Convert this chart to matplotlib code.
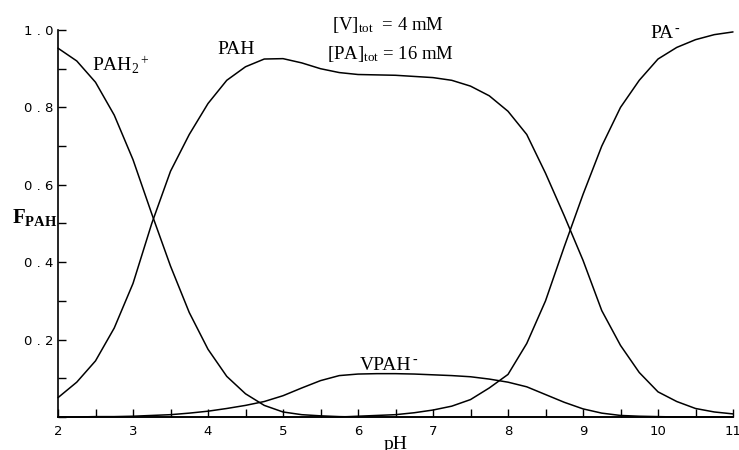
import matplotlib
matplotlib.use("Agg")
import matplotlib.pyplot as plt
from matplotlib.ticker import MultipleLocator, FixedLocator, FixedFormatter

plt.rcParams['font.family'] = ['Liberation Serif', 'DejaVu Serif']
plt.rcParams['mathtext.fontset'] = 'custom'
plt.rcParams['mathtext.rm'] = 'Liberation Serif'
plt.rcParams['mathtext.it'] = 'Liberation Serif:italic'
plt.rcParams['mathtext.bf'] = 'Liberation Serif:bold'
plt.rcParams['mathtext.default'] = 'rm'

# ---- data ----
pH = [2.0, 2.25, 2.5, 2.75, 3.0, 3.25, 3.5, 3.75, 4.0, 4.25, 4.5, 4.75,
      5.0, 5.25, 5.5, 5.75, 6.0, 6.25, 6.5, 6.75, 7.0, 7.25, 7.5, 7.75,
      8.0, 8.25, 8.5, 8.75, 9.0, 9.25, 9.5, 9.75, 10.0, 10.25, 10.5, 10.75, 11.0]

PAH2 = [0.953, 0.92, 0.865, 0.78, 0.665, 0.525, 0.39, 0.27, 0.175, 0.105, 0.06, 0.03,
        0.013, 0.006, 0.003, 0.001, 0.0, 0.0, 0.0, 0.0, 0.0, 0.0, 0.0, 0.0,
        0.0, 0.0, 0.0, 0.0, 0.0, 0.0, 0.0, 0.0, 0.0, 0.0, 0.0, 0.0, 0.0]

PAH = [0.05, 0.09, 0.145, 0.23, 0.345, 0.50, 0.635, 0.73, 0.81, 0.87, 0.905, 0.925,
       0.926, 0.915, 0.90, 0.89, 0.885, 0.884, 0.883, 0.88, 0.877, 0.87, 0.855, 0.83,
       0.79, 0.73, 0.63, 0.52, 0.405, 0.275, 0.185, 0.115, 0.065, 0.04, 0.022, 0.013, 0.008]

VPAH = [0.0, 0.0, 0.001, 0.001, 0.002, 0.004, 0.006, 0.01, 0.015, 0.022, 0.03, 0.04,
        0.055, 0.075, 0.094, 0.107, 0.111, 0.112, 0.112, 0.111, 0.109, 0.107, 0.104, 0.098,
        0.09, 0.078, 0.058, 0.038, 0.021, 0.01, 0.004, 0.002, 0.001, 0.0, 0.0, 0.0, 0.0]

PA = [0.0, 0.0, 0.0, 0.0, 0.0, 0.0, 0.0, 0.0, 0.0, 0.0, 0.0, 0.0,
      0.0, 0.0, 0.0, 0.0, 0.002, 0.004, 0.006, 0.011, 0.018, 0.028, 0.045, 0.075,
      0.11, 0.19, 0.30, 0.44, 0.575, 0.70, 0.80, 0.87, 0.925, 0.955, 0.975, 0.988, 0.995]

x_ticks = [2, 3, 4, 5, 6, 7, 8, 9, 10, 11]
x_tick_labels = ['2', '3', '4', '5', '6', '7', '8', '9', '10', '11']
y_ticks = [0.2, 0.4, 0.6, 0.8, 1.0]
y_tick_labels = ['0 . 2', '0 . 4', '0 . 6', '0 . 8', '1 . 0']

W, H = 739, 450
fig = plt.figure(figsize=(W / 100, H / 100), dpi=100)
ax = fig.add_axes([58 / W, 33 / H, 675 / W, 387 / H])

for ys in (PAH2, PAH, VPAH, PA):
    ax.plot(pH, ys, color='black', lw=1.1, solid_joinstyle='round',
            solid_capstyle='round', clip_on=False)

ax.set_xlim(2, 11)
ax.set_ylim(0, 1.0)
for s in ('top', 'right'):
    ax.spines[s].set_visible(False)
for s in ('left', 'bottom'):
    ax.spines[s].set_linewidth(1.2)

ax.xaxis.set_major_locator(FixedLocator(x_ticks))
ax.xaxis.set_major_formatter(FixedFormatter(x_tick_labels))
ax.xaxis.set_minor_locator(MultipleLocator(0.5))
ax.yaxis.set_major_locator(FixedLocator(y_ticks))
ax.yaxis.set_major_formatter(FixedFormatter(y_tick_labels))
ax.yaxis.set_minor_locator(MultipleLocator(0.1))
ax.tick_params(which='both', direction='in', length=6, width=1.0, color='black')
ax.tick_params(axis='x', which='major', pad=6)
ax.tick_params(axis='y', which='major', pad=3)
for lab in ax.get_xticklabels() + ax.get_yticklabels():
    lab.set_fontfamily('DejaVu Sans')
    lab.set_fontsize(9.5)

# axis labels
fig.text(396 / W, 1 - 436 / H, 'pH', ha='center', va='top', fontsize=14)
fig.text(12 / W, 1 - 218 / H, r'$\mathbf{F_{PAH}}$', ha='left', va='center', fontsize=15)

# curve labels
ax.text(2.45, 0.894, r'PAH$_2{}^+$', fontsize=14, ha='left', va='baseline')
ax.text(4.13, 0.938, 'PAH', fontsize=14, ha='left', va='baseline')

t_pa = ax.text(9.90, 0.979, 'PA', fontsize=14, ha='left', va='baseline')
ax.annotate('-', xy=(1, 0.78), xycoords=t_pa, xytext=(0.5, 0), textcoords='offset points',
            ha='left', va='center', fontsize=10)

t_v = ax.text(6.03, 0.122, 'VPAH', fontsize=14, ha='left', va='baseline')
ax.annotate('-', xy=(1, 0.78), xycoords=t_v, xytext=(0.5, 0), textcoords='offset points',
            ha='left', va='center', fontsize=10)

ax.text(5.65, 1.00, r'[V]$_{\mathrm{tot}}$  = 4 mM', fontsize=13.5, ha='left', va='baseline', clip_on=False)
ax.text(5.59, 0.925, r'[PA]$_{\mathrm{tot}}$ = 16 mM', fontsize=13.5, ha='left', va='baseline')

fig.savefig('out.png', dpi=100)
